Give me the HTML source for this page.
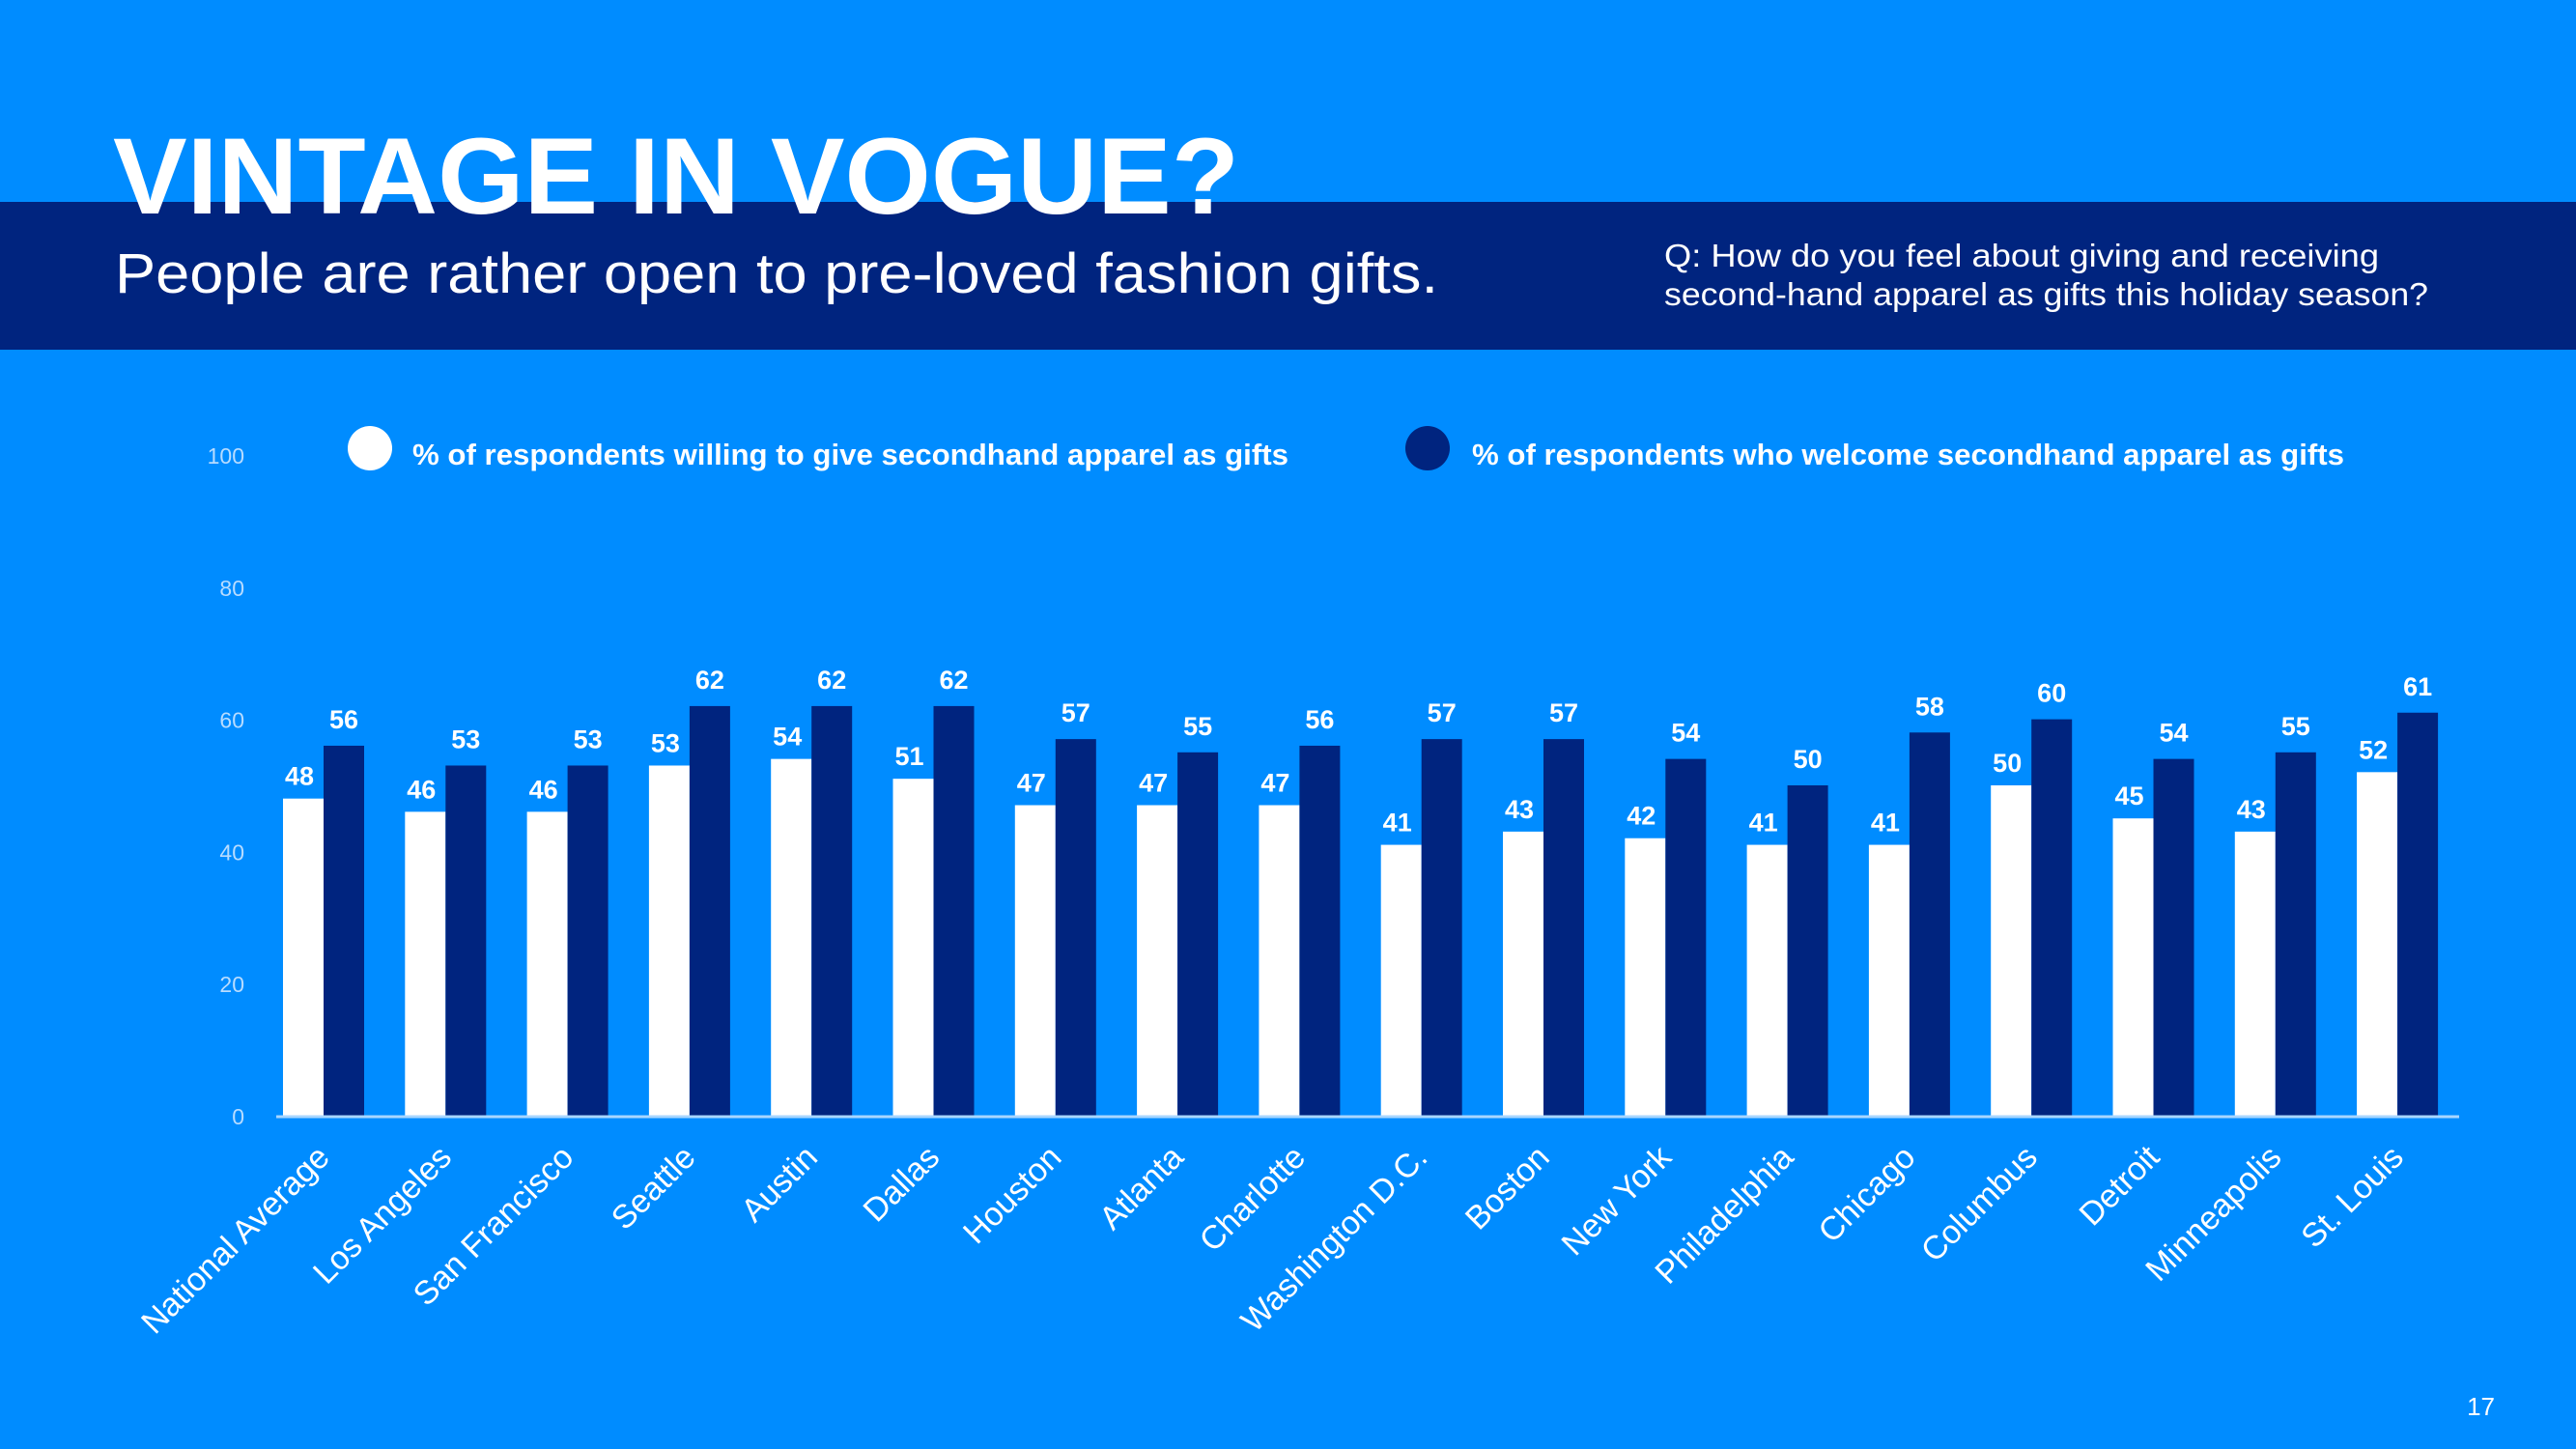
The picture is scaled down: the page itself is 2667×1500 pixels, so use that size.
<!DOCTYPE html>
<html><head><meta charset="utf-8">
<style>
html,body{margin:0;padding:0;background:#008cff;}
svg{display:block;font-family:"Liberation Sans",sans-serif;}
</style></head>
<body>
<svg id="chart" width="2667" height="1500" viewBox="0 0 2667 1500" xmlns="http://www.w3.org/2000/svg">
<rect x="0" y="0" width="2667" height="1500" fill="#008cff"/>
<rect x="0" y="209" width="2667" height="153" fill="#00247f"/>
<text x="117" y="221" font-size="112" font-weight="bold" fill="#fff" textLength="1166" lengthAdjust="spacingAndGlyphs">VINTAGE IN VOGUE?</text>
<text x="119" y="303" font-size="58" fill="#fff" textLength="1370" lengthAdjust="spacingAndGlyphs">People are rather open to pre-loved fashion gifts.</text>
<text x="1723" y="276" font-size="33" fill="#fff" textLength="740" lengthAdjust="spacingAndGlyphs">Q: How do you feel about giving and receiving</text>
<text x="1723" y="316" font-size="33" fill="#fff" textLength="791" lengthAdjust="spacingAndGlyphs">second-hand apparel as gifts this holiday season?</text>
<circle cx="383" cy="464" r="23" fill="#fff"/>
<text x="427" y="481" font-size="31" font-weight="bold" fill="#fff" textLength="907" lengthAdjust="spacingAndGlyphs">% of respondents willing to give secondhand apparel as gifts</text>
<circle cx="1478" cy="464" r="23" fill="#00247f"/>
<text x="1524" y="481" font-size="31" font-weight="bold" fill="#fff" textLength="903" lengthAdjust="spacingAndGlyphs">% of respondents who welcome secondhand apparel as gifts</text>
<g id="plot"></g>
<text x="2583" y="1465" font-size="26" fill="#fff" text-anchor="end">17</text>
</svg>
<script>
const categories = ["National Average","Los Angeles","San Francisco","Seattle","Austin","Dallas","Houston","Atlanta","Charlotte","Washington D.C.","Boston","New York","Philadelphia","Chicago","Columbus","Detroit","Minneapolis","St. Louis"];
const giveValues = [48,46,46,53,54,51,47,47,47,41,43,42,41,41,50,45,43,52];
const welcomeValues = [56,53,53,62,62,62,57,55,56,57,57,54,50,58,60,54,55,61];
const yTicks = [0,20,40,60,80,100];

const NS = "http://www.w3.org/2000/svg";
const plot = document.getElementById('plot');
const y0 = 1155, pxPerUnit = 6.84;
const yScale = v => y0 - v * pxPerUnit;
const groupCenter = i => 335 + i * 126.3;
const barW = 42;
function mk(tag, attrs){ const e = document.createElementNS(NS, tag); for (const k in attrs) e.setAttribute(k, attrs[k]); plot.appendChild(e); return e; }

yTicks.forEach(t => {
  const e = mk('text', {x: 253, y: yScale(t) + 9, 'font-size': 23, fill: '#b8dcff', 'text-anchor': 'end'});
  e.textContent = t;
  
  
});

categories.forEach((c, i) => {
  const cx = groupCenter(i);
  const wv = giveValues[i], dv = welcomeValues[i];
  const wb = mk('rect', {x: cx - barW, y: yScale(wv), width: barW, height: wv * pxPerUnit, fill: '#fff'});
  
  
  const db = mk('rect', {x: cx, y: yScale(dv), width: barW, height: dv * pxPerUnit, fill: '#00247f'});
  
  
  const wl = mk('text', {x: cx - barW/2 - 4, y: yScale(wv) - 14, 'font-size': 27, 'font-weight': 'bold', fill: '#fff', 'text-anchor': 'middle'});
  wl.textContent = wv;
  
  
  const dl = mk('text', {x: cx + barW/2, y: yScale(dv) - 18, 'font-size': 27, 'font-weight': 'bold', fill: '#fff', 'text-anchor': 'middle'});
  dl.textContent = dv;
  
  
  const lx = cx + 8, ly = 1200;
  const cl = mk('text', {x: lx, y: ly, 'font-size': 34, fill: '#fff', 'text-anchor': 'end', transform: `rotate(-45 ${lx} ${ly})`});
  cl.textContent = c;
  
  
});

const ax = mk('line', {x1: 286, x2: 2546, y1: y0 + 1, y2: y0 + 1, stroke: '#a8d6ff', 'stroke-width': 3});


</script>
</body></html>
